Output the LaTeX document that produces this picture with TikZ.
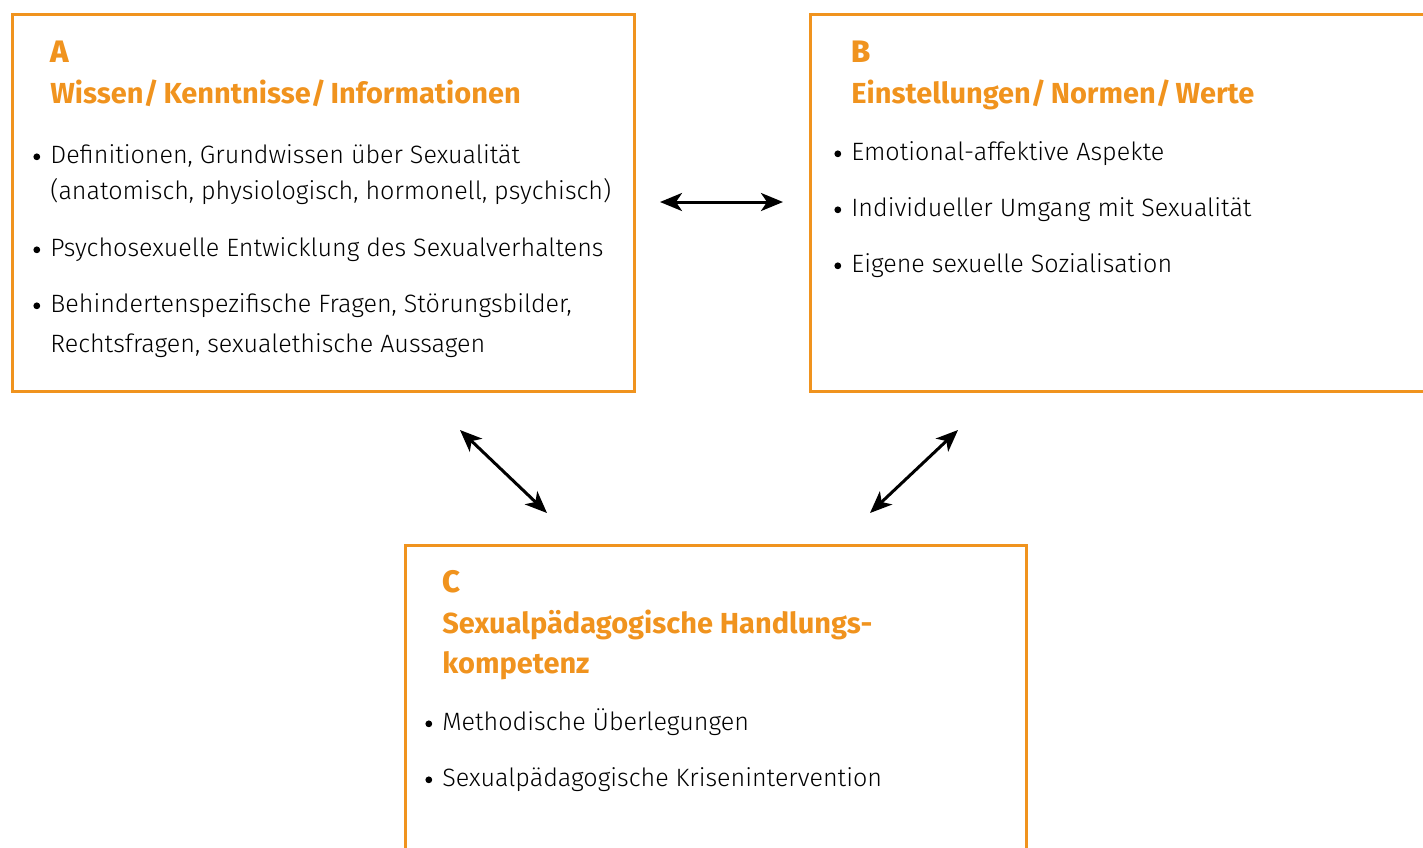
\documentclass[tikz,border=0pt]{standalone}
\usepackage{fontspec}
\setmainfont{Fira Sans}
\newfontfamily\bodyfont{Fira Sans Light}
\newfontfamily\heavyfont{Fira Sans ExtraBold}
\usetikzlibrary{arrows.meta,positioning}
\definecolor{kompOrange}{HTML}{F0931E}
\newcommand{\itm}[1]{\makebox[8.5pt][l]{\tikz[baseline=-3.1pt]\fill (0,0) circle (1.7pt);}#1}

\begin{document}
\begin{tikzpicture} [
    x=0.5pt, y=-0.5pt,
    box/.style      = { rectangle, draw=kompOrange, line width=1.5pt,
                        anchor=north west, inner sep=0pt },
    letter/.style   = { anchor=base west, inner sep=0pt, text=kompOrange,
                        font=\fontsize{15.5}{18}\selectfont\heavyfont },
    head/.style     = { anchor=base west, inner sep=0pt, text=kompOrange,
                        font=\fontsize{14.5}{18}\selectfont\bfseries },
    item/.style     = { anchor=base west, inner sep=0pt,
                        font=\fontsize{12.55}{15}\selectfont\bodyfont },
    line/.style     = { draw, line width=1.5pt,
                        {Stealth[length=11pt,width=9pt,inset=3pt]}-{Stealth[length=11pt,width=9pt,inset=3pt]} },
  ]
  \useasboundingbox (0,0) rectangle (1423,847);

  % the three boxes
  \node[box, minimum width=311pt, minimum height=188.5pt] (boxA) at (11,13) {};
  \node[box, minimum width=350pt, minimum height=188.5pt] (boxB) at (809,13) {};
  \node[box, minimum width=310.5pt, minimum height=170pt] (boxC) at (404,544) {};

  % box A
  \node[letter] (letA) at (50,62) {A};
  \node[head] (headA) at (50,103) {Wissen/\,Kenntnisse/\,Informationen};
  \node[item] (a1) at (33,163) {\itm{Definitionen, Grundwissen über Sexualität}};
  \node[item] (a1b) at (50,199) {(anatomisch, physiologisch, hormonell, psychisch)};
  \node[item] (a2) at (33,256) {\itm{Psychosexuelle Entwicklung des Sexualverhaltens}};
  \node[item] (a3) at (33,312) {\itm{Behindertenspezifische Fragen, Störungsbilder,}};
  \node[item] (a3b) at (50,352) {Rechtsfragen, sexualethische Aussagen};

  % box B
  \node[letter] (letB) at (851,62) {B};
  \node[head] (headB) at (851,103) {Einstellungen/\,Normen/\,Werte};
  \node[item] (b1) at (834,160) {\itm{Emotional-affektive Aspekte}};
  \node[item] (b2) at (834,216) {\itm{Individueller Umgang mit Sexualität}};
  \node[item] (b3) at (834,272) {\itm{Eigene sexuelle Sozialisation}};

  % box C
  \node[letter] (letC) at (442,592) {C};
  \node[head] (headC) at (442,633) {Sexualpädagogische Handlungs-};
  \node[head] (headC2) at (442,673) {kompetenz};
  \node[item] (c1) at (425,730) {\itm{Methodische Überlegungen}};
  \node[item] (c2) at (425,786) {\itm{Sexualpädagogische Krisenintervention}};

  % arrow ends
  \coordinate (ab1) at (660,202);
  \coordinate (ab2) at (783,202);
  \coordinate (ac1) at (460,430);
  \coordinate (ac2) at (547,513);
  \coordinate (bc1) at (958,430);
  \coordinate (bc2) at (870,513);

  % connect the boxes
  \path [line] (ab1) -- (ab2);
  \path [line] (ac1) -- (ac2);
  \path [line] (bc1) -- (bc2);
\end{tikzpicture}
\end{document}
